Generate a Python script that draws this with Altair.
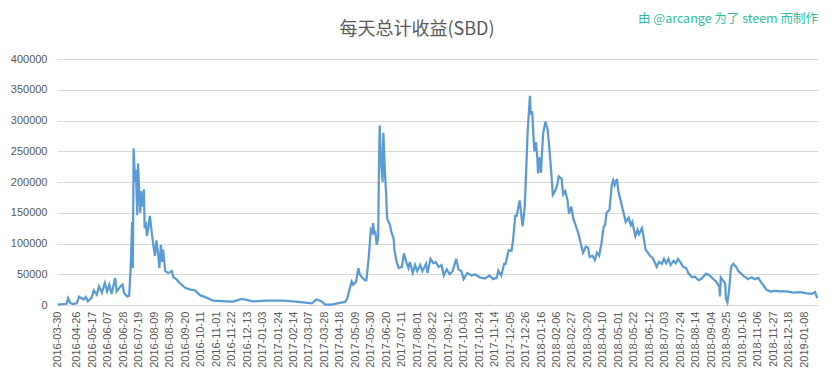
import altair as alt
import pandas as pd

start_date = "2016-03-30"

day_offsets = [
    1, 13, 15, 18, 22, 27, 30, 36, 39, 42, 47, 50, 54, 57, 61, 65, 68, 71, 74, 79,
    81, 86, 89, 91, 95, 98, 100, 102, 103, 104, 106, 107, 109, 110, 111, 113, 114, 116, 118, 119,
    121, 122, 124, 126, 129, 131, 133, 135, 138, 139, 141, 143, 144, 147, 151, 156, 158, 162, 167, 174,
    181, 187, 194, 203, 212, 230, 239, 251, 266, 285, 307, 328, 346, 352, 359, 364, 373, 382, 391, 394,
    397, 400, 402, 406, 409, 411, 414, 418, 420, 423, 426, 428, 429, 431, 432, 434, 436, 437, 438, 440,
    442, 443, 445, 447, 448, 452, 454, 457, 458, 461, 464, 468, 471, 474, 477, 479, 483, 486, 489, 493,
    496, 501, 503, 507, 511, 514, 518, 522, 525, 529, 533, 537, 542, 545, 549, 552, 557, 563, 567, 574,
    581, 587, 592, 597, 599, 603, 607, 609, 613, 617, 619, 622, 624, 628, 630, 632, 635, 637, 639, 642,
    643, 645, 647, 648, 650, 652, 653, 655, 657, 658, 660, 663, 666, 668, 671, 673, 676, 679, 681, 685,
    687, 690, 693, 695, 698, 701, 704, 708, 712, 714, 718, 721, 723, 727, 730, 733, 736, 739, 742, 744,
    746, 750, 753, 755, 757, 760, 762, 765, 767, 770, 772, 776, 779, 781, 785, 788, 790, 794, 796, 799,
    805, 809, 814, 817, 821, 824, 827, 830, 833, 837, 840, 843, 847, 850, 854, 857, 862, 866, 871, 875,
    881, 886, 891, 895, 899, 900, 901, 904, 907, 908, 910, 912, 915, 918, 922, 925, 928, 932, 935, 938,
    943, 947, 952, 955, 959, 963, 968, 975, 981, 990, 999, 1009, 1018, 1024, 1029, 1032,
]

sbd_values = [
    500, 2000, 11000, 3000, 1500, 3000, 13500, 9000, 13000, 6000, 12000, 24000, 17000, 30000, 20000, 36000, 22000, 33000, 18000, 44000,
    22000, 30000, 33000, 20000, 14000, 15000, 60000, 135000, 60000, 255000, 200000, 220000, 146000, 230000, 200000, 150000, 185000, 160000, 188000, 125000,
    130000, 112000, 125000, 145000, 115000, 95000, 80000, 105000, 75000, 60000, 98000, 70000, 90000, 55000, 52000, 55000, 45000, 42000, 35000, 28000,
    25000, 24000, 16000, 12000, 7000, 6000, 5500, 10000, 6000, 7000, 7000, 5000, 2800, 9000, 6000, 500, 500, 3000, 5000, 10000,
    25000, 38000, 33000, 38000, 60000, 50000, 45000, 40000, 40000, 75000, 122000, 118000, 133000, 115000, 120000, 98000, 110000, 220000, 292000, 230000,
    200000, 280000, 220000, 175000, 141000, 130000, 118000, 108000, 90000, 70000, 60000, 62000, 84000, 70000, 60000, 70000, 52000, 65000, 55000, 65000,
    55000, 67000, 52000, 75000, 68000, 70000, 62000, 65000, 48000, 58000, 50000, 55000, 75000, 58000, 55000, 42000, 52000, 48000, 50000, 45000,
    43000, 48000, 42000, 44000, 56000, 48000, 67000, 67000, 89000, 88000, 105000, 145000, 145000, 170000, 150000, 128000, 160000, 222000, 285000, 340000,
    310000, 315000, 270000, 250000, 265000, 240000, 214000, 240000, 215000, 240000, 280000, 298000, 285000, 260000, 215000, 179000, 185000, 195000, 209000, 205000,
    180000, 185000, 170000, 148000, 160000, 140000, 130000, 115000, 95000, 85000, 95000, 93000, 78000, 80000, 73000, 85000, 80000, 100000, 127000, 130000,
    150000, 155000, 195000, 203000, 195000, 205000, 185000, 170000, 160000, 145000, 135000, 142000, 130000, 135000, 112000, 122000, 115000, 125000, 112000, 90000,
    80000, 76000, 62000, 70000, 67000, 75000, 68000, 75000, 65000, 72000, 68000, 75000, 68000, 62000, 60000, 52000, 45000, 46000, 40000, 43000,
    51000, 48000, 42000, 38000, 30000, 14000, 45000, 40000, 35000, 10000, 4000, 20000, 62000, 67000, 62000, 55000, 52000, 47000, 45000, 42000,
    45000, 42000, 44000, 38000, 32000, 25000, 22000, 23000, 22000, 22000, 20000, 21000, 19000, 18000, 21000, 11000,
]

x_tick_labels = [
    "2016-03-30", "2016-04-26", "2016-05-17", "2016-06-07", "2016-06-28", "2016-07-19", "2016-08-09",
    "2016-08-30", "2016-09-20", "2016-10-11", "2016-11-01", "2016-11-22", "2016-12-13", "2017-01-03",
    "2017-01-24", "2017-02-14", "2017-03-07", "2017-03-28", "2017-04-18", "2017-05-09", "2017-05-30",
    "2017-06-20", "2017-07-11", "2017-08-01", "2017-08-22", "2017-09-12", "2017-10-03", "2017-10-24",
    "2017-11-14", "2017-12-05", "2017-12-26", "2018-01-16", "2018-02-06", "2018-02-27", "2018-03-20",
    "2018-04-10", "2018-05-01", "2018-05-22", "2018-06-12", "2018-07-03", "2018-07-24", "2018-08-14",
    "2018-09-04", "2018-09-25", "2018-10-16", "2018-11-06", "2018-11-27", "2018-12-18", "2019-01-08",
]
x_domain = ["2016-03-30", "2019-01-27"]
y_tick_values = [0, 50000, 100000, 150000, 200000, 250000, 300000, 350000, 400000]

title_text = "每天总计收益(SBD)"
credit_text = "由 @arcange 为了 steem 而制作"

dates = (pd.Timestamp(start_date) + pd.to_timedelta(day_offsets, unit="D")).strftime("%Y-%m-%d")
df = pd.DataFrame({"date": list(dates), "value": sbd_values})


def dt(s):
    y, m, d = (int(p) for p in s.split("-"))
    return alt.DateTime(year=y, month=m, date=d, utc=True)


x_ticks = [dt(s) for s in x_tick_labels]

line = alt.Chart(df).mark_line(color="#5b9bd5", strokeWidth=2.25).encode(
    x=alt.X(
        "date:T",
        scale=alt.Scale(type="utc", domain=[dt(s) for s in x_domain], nice=False),
        axis=alt.Axis(
            values=x_ticks,
            format="%Y-%m-%d",
            labelAngle=-90,
            labelPadding=6,
            ticks=False,
            grid=False,
            domainColor="#d9d9d9",
            labelColor="#595959",
            labelFont="Liberation Sans",
            labelFontSize=11,
            labelOverlap=False,
            title=None,
        ),
    ),
    y=alt.Y(
        "value:Q",
        scale=alt.Scale(domain=[0, 400000], nice=False),
        axis=alt.Axis(
            values=y_tick_values,
            format="d",
            domain=False,
            ticks=False,
            labelPadding=10,
            gridColor="#d9d9d9",
            labelColor="#595959",
            labelFont="Liberation Sans",
            labelFontSize=11,
            title=None,
        ),
    ),
)

title = alt.Chart(pd.DataFrame({"t": [title_text]})).mark_text(
    align="center", baseline="middle", color="#595959", fontSize=18, font="Noto Sans CJK SC"
).encode(text="t:N", x=alt.value(360), y=alt.value(-29))

credit = alt.Chart(pd.DataFrame({"t": [credit_text]})).mark_text(
    align="right", baseline="middle", color="#2bbfa0", fontSize=12.5, font="Noto Sans CJK SC"
).encode(text="t:N", x=alt.value(761), y=alt.value(-40))

chart = alt.layer(line, title, credit).properties(
    width=761,
    height=246,
    autosize=alt.AutoSizeParams(type="none"),
    padding={"left": 49, "top": 51, "right": 5, "bottom": 66},
).configure_view(strokeWidth=0)

chart.save("out.html", embed_options={"renderer": "svg", "actions": False})
